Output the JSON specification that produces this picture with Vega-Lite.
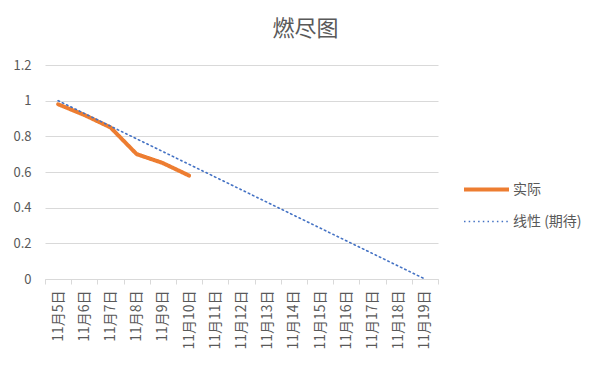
{
  "$schema": "https://vega.github.io/schema/vega-lite/v6.json",
  "autosize": "none",
  "width": 393,
  "height": 214,
  "padding": {"left": 45, "top": 65, "right": 171, "bottom": 90},
  "background": "white",
  "title": {
    "text": "燃尽图",
    "fontSize": 22,
    "font": "Noto Sans CJK SC",
    "fontWeight": "normal",
    "color": "#595959",
    "anchor": "middle",
    "dx": 64,
    "offset": 18
  },
  "config": {
    "view": {"stroke": null},
    "font": "Noto Sans CJK SC"
  },
  "data": {
    "values": [
      {"date": "11月5日", "series": "实际", "value": 0.98},
      {"date": "11月6日", "series": "实际", "value": 0.92},
      {"date": "11月7日", "series": "实际", "value": 0.85},
      {"date": "11月8日", "series": "实际", "value": 0.70},
      {"date": "11月9日", "series": "实际", "value": 0.65},
      {"date": "11月10日", "series": "实际", "value": 0.58},
      {"date": "11月5日", "series": "线性 (期待)", "value": 1.0},
      {"date": "11月6日", "series": "线性 (期待)", "value": 0.9286},
      {"date": "11月7日", "series": "线性 (期待)", "value": 0.8571},
      {"date": "11月8日", "series": "线性 (期待)", "value": 0.7857},
      {"date": "11月9日", "series": "线性 (期待)", "value": 0.7143},
      {"date": "11月10日", "series": "线性 (期待)", "value": 0.6429},
      {"date": "11月11日", "series": "线性 (期待)", "value": 0.5714},
      {"date": "11月12日", "series": "线性 (期待)", "value": 0.5},
      {"date": "11月13日", "series": "线性 (期待)", "value": 0.4286},
      {"date": "11月14日", "series": "线性 (期待)", "value": 0.3571},
      {"date": "11月15日", "series": "线性 (期待)", "value": 0.2857},
      {"date": "11月16日", "series": "线性 (期待)", "value": 0.2143},
      {"date": "11月17日", "series": "线性 (期待)", "value": 0.1429},
      {"date": "11月18日", "series": "线性 (期待)", "value": 0.0714},
      {"date": "11月19日", "series": "线性 (期待)", "value": 0.0}
    ]
  },
  "mark": {"type": "line", "strokeCap": "round", "strokeJoin": "round"},
  "encoding": {
    "x": {
      "field": "date",
      "type": "ordinal",
      "sort": ["11月5日","11月6日","11月7日","11月8日","11月9日","11月10日","11月11日","11月12日","11月13日","11月14日","11月15日","11月16日","11月17日","11月18日","11月19日"],
      "scale": {"type": "band", "paddingInner": 0, "paddingOuter": 0},
      "axis": {
        "title": null,
        "labelAngle": -90,
        "labelAlign": "right",
        "labelBaseline": "middle",
        "labelFontSize": 14,
        "labelColor": "#595959",
        "labelPadding": 6,
        "tickBand": "extent",
        "tickSize": 5,
        "tickColor": "#D9D9D9",
        "domainColor": "#D9D9D9",
        "grid": false
      }
    },
    "y": {
      "field": "value",
      "type": "quantitative",
      "scale": {"domain": [0, 1.2], "nice": false},
      "axis": {
        "title": null,
        "values": [0, 0.2, 0.4, 0.6, 0.8, 1, 1.2],
        "format": "~g",
        "labelFontSize": 13,
        "labelColor": "#595959",
        "labelPadding": 14,
        "ticks": false,
        "domain": false,
        "gridColor": "#D9D9D9",
        "gridWidth": 1
      }
    },
    "color": {
      "field": "series",
      "type": "nominal",
      "scale": {"domain": ["实际", "线性 (期待)"], "range": ["#ED7D31", "#4472C4"]},
      "legend": {
        "title": null,
        "orient": "none",
        "legendX": 417,
        "legendY": 100,
        "symbolType": "stroke",
        "symbolSize": 2025,
        "labelFontSize": 14,
        "labelColor": "#595959",
        "rowPadding": -5,
        "labelOffset": 2
      }
    },
    "strokeDash": {
      "field": "series",
      "type": "nominal",
      "scale": {"domain": ["实际", "线性 (期待)"], "range": [[1, 0], [1.5, 3.2]]}
    },
    "strokeWidth": {
      "field": "series",
      "type": "nominal",
      "scale": {"domain": ["实际", "线性 (期待)"], "range": [4, 1.6]}
    }
  }
}
